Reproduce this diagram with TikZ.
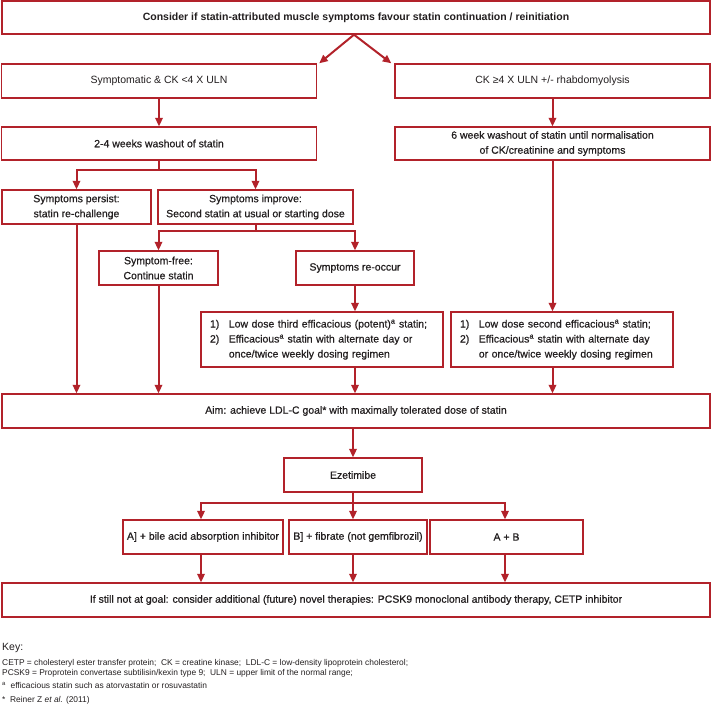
\documentclass[tikz,border=0pt]{standalone}
\usepackage{fontspec}
\setmainfont{Liberation Sans}
\newfontfamily\medfont{Liberation Sans}[FakeBold=0.6]
\usepackage{tikz}
\usetikzlibrary{arrows.meta, positioning}
\definecolor{flowred}{RGB}{178,34,42}
\definecolor{flowtext}{RGB}{35,31,32}
\tikzset{
  box/.style={rectangle, draw=flowred, fill=white, line width=1.4pt,
              align=center, text=flowtext, inner sep=2pt,
              font=\fontsize{10.5}{15}\selectfont\medfont},
  lightbox/.style={box, font=\fontsize{10.5}{15}\selectfont},
  listbox/.style={box, align=left, inner xsep=9pt},
  link/.style={draw=flowred, line width=2pt},
  arrow/.style={link, -{Triangle[length=8.5pt, width=7.5pt]}},
  keytext/.style={anchor=base west, inner sep=0pt, text=flowtext,
                  font=\fontsize{8.4}{10}\selectfont},
}

\begin{document}
\begin{tikzpicture}[
  x=1pt, y=-1pt,
  wide/.style={box, minimum width=708pt, minimum height=34pt},
  half/.style={box, minimum width=315pt, minimum height=34pt},
]
  \useasboundingbox (0,0) rectangle (712,720);

  \node[wide, minimum height=33pt, font=\fontsize{10.5}{15}\selectfont\bfseries] (start) at (356,17.5)
    {Consider if statin-attributed muscle symptoms favour statin continuation / reinitiation};

  \node[half, lightbox] (symp) at (159,81) {Symptomatic \& CK <4 X ULN};
  \node[half, lightbox] (ckhigh) at (552.5,81) {CK ≥4 X ULN +/- rhabdomyolysis};

  \node[half, minimum height=33pt] (wash1) at (159,143.5) {2-4 weeks washout of statin};
  \node[half, minimum height=33pt] (wash2) at (552.5,143.5)
    {6 week washout of statin until normalisation\\of CK/creatinine and symptoms};

  \node[box, minimum width=149pt, minimum height=34pt] (persist) at (76.5,207)
    {Symptoms persist:\\statin re-challenge};
  \node[box, minimum width=195pt, minimum height=34pt] (improve) at (255.5,207)
    {Symptoms improve:\\Second statin at usual or starting dose};

  \node[box, minimum width=119pt, minimum height=34pt] (free) at (158.5,268)
    {Symptom-free:\\Continue statin};
  \node[box, minimum width=118pt, minimum height=34pt] (reoccur) at (355,268)
    {Symptoms re-occur};

  \node[listbox, minimum width=242pt, minimum height=55pt, text width=224pt] (third) at (322,339.5)
    {\begin{tabular}{@{}l@{\hspace{9.5pt}}l@{}}
     1) & Low dose third efficacious (potent)\textsuperscript{a} statin;\\
     2) & Efficacious\textsuperscript{a} statin with alternate day or\\
        & once/twice weekly dosing regimen
     \end{tabular}};
  \node[listbox, minimum width=222pt, minimum height=55pt, text width=204pt] (second) at (562,339.5)
    {\begin{tabular}{@{}l@{\hspace{9.5pt}}l@{}}
     1) & Low dose second efficacious\textsuperscript{a} statin;\\
     2) & Efficacious\textsuperscript{a} statin with alternate day\\
        & or once/twice weekly dosing regimen
     \end{tabular}};

  \node[wide] (aim) at (356,411)
    {Aim: achieve LDL-C goal* with maximally tolerated dose of statin};

  \node[box, minimum width=138pt, minimum height=34pt] (ezet) at (353,475) {Ezetimibe};

  \node[box, minimum width=160pt, minimum height=34pt] (bile) at (203,537)
    {A] + bile acid absorption inhibitor};
  \node[box, minimum width=138pt, minimum height=34pt] (fibrate) at (358,537)
    {B] + fibrate (not gemfibrozil)};
  \node[box, minimum width=153pt, minimum height=34pt] (both) at (506.5,537) {A + B};

  \node[wide] (still) at (356,600)
    {If still not at goal: consider additional (future) novel therapies: PCSK9 monoclonal antibody therapy, CETP inhibitor};

  \coordinate (fork1) at (wash1.south |- 0,170);
  \coordinate (fork2) at (improve.south |- 0,231);
  \coordinate (fork3) at (ezet.south |- 0,503);

  \draw[arrow] ([xshift=-2pt]start.south) -- ([xshift=2pt]symp.north east);
  \draw[arrow] ([xshift=-2pt]start.south) -- ([xshift=-3pt]ckhigh.north west);
  \draw[arrow] (symp) -- (wash1);
  \draw[arrow] (ckhigh) -- (wash2);
  \draw[link] (wash1.south) -- (fork1);
  \draw[arrow] (fork1) -| (persist.north);
  \draw[arrow] (fork1) -| (improve.north);
  \draw[link] (improve.south) -- (fork2);
  \draw[arrow] (fork2) -| (free.north);
  \draw[arrow] (fork2) -| (reoccur.north);
  \draw[arrow] (reoccur.south) -- (reoccur.south |- third.north);
  \draw[arrow] (wash2.south) -- (wash2.south |- second.north);
  \draw[arrow] (persist.south) -- (persist.south |- aim.north);
  \draw[arrow] (free.south) -- (free.south |- aim.north);
  \draw[arrow] (reoccur.south |- third.south) -- (reoccur.south |- aim.north);
  \draw[arrow] (wash2.south |- second.south) -- (wash2.south |- aim.north);
  \draw[arrow] (ezet.north |- aim.south) -- (ezet.north);
  \draw[link] (ezet.south) -- (fork3);
  \draw[arrow] (fork3) -| ([xshift=-2pt]bile.north);
  \draw[arrow] (fork3) -- (fork3 |- fibrate.north);
  \draw[arrow] (fork3) -| ([xshift=-1.5pt]both.north);
  \draw[arrow] ([xshift=-2pt]bile.south) -- ([xshift=-2pt]bile.south |- still.north);
  \draw[arrow] (fork3 |- fibrate.south) -- (fork3 |- still.north);
  \draw[arrow] ([xshift=-1.5pt]both.south) -- ([xshift=-1.5pt]both.south |- still.north);

  \node[keytext, font=\fontsize{10.5}{12}\selectfont] (key) at (2,650) {Key:};
  \node[keytext] (abbr1) at (2,665)
    {CETP = cholesteryl ester transfer protein;\ \ CK = creatine kinase;\ \ LDL-C = low-density lipoprotein cholesterol;};
  \node[keytext] (abbr2) at (2,675.5)
    {PCSK9 = Proprotein convertase subtilisin/kexin type 9;\ \ ULN = upper limit of the normal range;};
  \node[keytext] (notea) at (2,688)
    {\textsuperscript{a}\ \ efficacious statin such as atorvastatin or rosuvastatin};
  \node[keytext] (notestar) at (2,702.5)
    {*\ \ Reiner Z \textit{et al.} (2011)};
\end{tikzpicture}
\end{document}
